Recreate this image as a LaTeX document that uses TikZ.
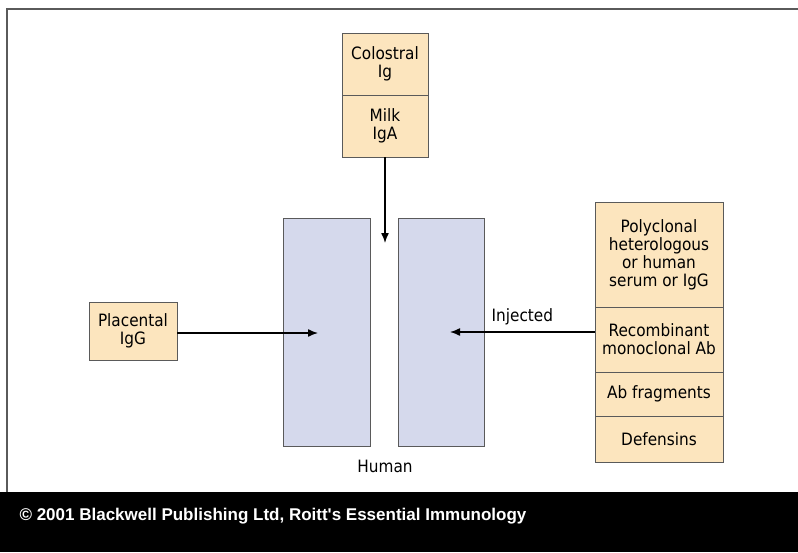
\documentclass[tikz,border=0pt]{standalone}
\usepackage{fontspec}
\usetikzlibrary{arrows.meta}
\setmainfont{DejaVu Sans Condensed}
\newfontfamily\footfont{Liberation Sans}
\definecolor{tanfill}{RGB}{252,229,190}
\definecolor{humanfill}{RGB}{213,217,236}
\definecolor{edgegray}{RGB}{90,90,90}
\begin{document}
\begin{tikzpicture}[x=1pt,y=-1pt,
	cell/.style={draw=edgegray,fill=tanfill,inner sep=0pt,align=center,
		font=\fontsize{17}{18}\selectfont},
	human/.style={draw=edgegray,fill=humanfill,inner sep=0pt,minimum width=87,minimum height=228},
	flow/.style={-{Latex[length=10pt,width=8pt]},line width=1.4pt}]
		\useasboundingbox (0,0) rectangle (798,552);
		\fill[black] (0,492) rectangle (798,552);
		\draw[edgegray,line width=1.3pt] (7,492) -- (7,9) -- (798,9);
		% human body
		\node[human] (gutL) at (327,332) {};
		\node[human,minimum width=86] (gutR) at (441,332) {};
		\node[font=\fontsize{17}{18}\selectfont] (human) at (385,466) {Human};
		% sources
		\node[cell,minimum width=86,minimum height=62] (colostral) at (385,64) {Colostral\\Ig};
		\node[cell,minimum width=86,minimum height=62] (milk) at (385,126) {Milk\\IgA};
		\node[cell,minimum width=88,minimum height=58] (placental) at (133,331) {Placental\\IgG};
		\node[cell,minimum width=128,minimum height=105] (poly) at (659,254.5) {Polyclonal\\heterologous\\or human\\serum or IgG};
		\node[cell,minimum width=128,minimum height=65] (recomb) at (659,339.5) {Recombinant\\monoclonal Ab};
		\node[cell,minimum width=128,minimum height=44] (frag) at (659,394) {Ab fragments};
		\node[cell,minimum width=128,minimum height=46] (defensin) at (659,439) {Defensins};
		% arrow ends
		\coordinate (tipM) at (385,243);
		\coordinate (tipP) at (318,333);
		\coordinate (tipI) at (450,332);
		\draw[flow] (milk.south) -- (tipM);
		\draw[flow] (placental.east |- tipP) -- (tipP);
		\draw[flow] (recomb.west |- tipI) -- node[above=3pt,font=\fontsize{17}{18}\selectfont] (injected) {Injected} (tipI);
		\node[anchor=west,text=white,font=\footfont\bfseries\fontsize{17}{19}\selectfont] (credit) at (16,516) {\textcopyright\ 2001 Blackwell Publishing Ltd, Roitt's Essential Immunology};
	\end{tikzpicture}
\end{document}
